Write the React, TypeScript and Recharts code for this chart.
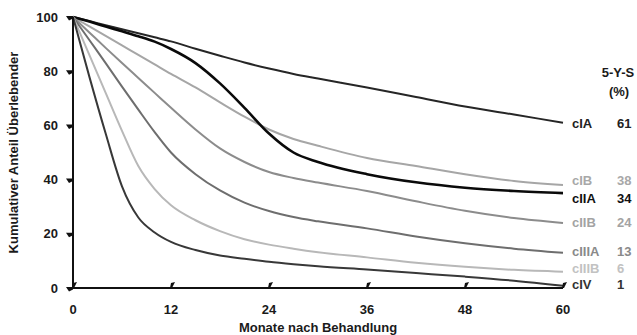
import React from "react";
import { LineChart, Line, XAxis, YAxis } from "recharts";

const months = [0, 2, 4, 6, 8, 10, 12, 15, 18, 21, 24, 27, 30, 36, 42, 48, 54, 60];

const cIA = [100, 98.5, 97, 95.5, 94, 92.5, 91, 88.3, 85.7, 83.2, 81, 79, 77.3, 74, 70.5, 67, 64, 61];
const cIB = [100, 96.5, 93, 89.5, 86, 82.5, 79, 74, 68.5, 63.2, 58.5, 55, 52.5, 48, 45, 42, 39.5, 38];
const cIIA = [100, 98.3, 96.5, 94.7, 92.9, 90.9, 88.2, 83, 75.5, 66.5, 57, 50, 46.5, 42, 39, 37, 35.8, 35];
const cIIB = [100, 94.3, 88.6, 83, 77.5, 72, 66.5, 58.5, 51.5, 46.5, 42.8, 40.6, 38.9, 35.8, 32, 28.5, 25.8, 24];
const cIIIA = [100, 91.5, 83, 74.3, 65.8, 57.5, 50, 42, 36, 31.5, 28.4, 26.2, 24.6, 22, 19, 16.5, 14.5, 13];
const cIIIB = [100, 86, 72, 58, 45, 36.5, 30.5, 25, 21, 18, 16, 14.5, 13.2, 11.3, 9.3, 7.8, 6.7, 6];
const cIV = [100, 78, 57, 37.5, 26, 20.5, 17, 14, 12, 10.8, 9.7, 8.8, 8, 6.8, 5.5, 4.2, 2.7, 0.8];

const seriesNames = ["cIA", "cIB", "cIIA", "cIIB", "cIIIA", "cIIIB", "cIV"];
const seriesValues = [cIA, cIB, cIIA, cIIB, cIIIA, cIIIB, cIV];
const fiveYearSurvival = ["61", "38", "34", "24", "13", "6", "1"];

const xTicks = [0, 12, 24, 36, 48, 60];
const yTicks = [0, 20, 40, 60, 80, 100];

const xTitle = "Monate nach Behandlung";
const yTitle = "Kumulativer Anteil Überlebender";
const headerLine1 = "5-Y-S";
const headerLine2 = "(%)";

const styles: Record<string, { stroke: string; width: number; text: string; dy: number }> = {
  cIA: { stroke: "#262626", width: 2, text: "#222222", dy: 1 },
  cIB: { stroke: "#a6a6a6", width: 2, text: "#a8a8a8", dy: -5 },
  cIIA: { stroke: "#0a0a0a", width: 2.6, text: "#111111", dy: 5 },
  cIIB: { stroke: "#8c8c8c", width: 2, text: "#a3a3a3", dy: -1 },
  cIIIA: { stroke: "#6e6e6e", width: 2, text: "#8a8a8a", dy: -1 },
  cIIIB: { stroke: "#b8b8b8", width: 2, text: "#c2c2c2", dy: -3.5 },
  cIV: { stroke: "#383838", width: 2, text: "#333333", dy: -1.5 },
};

const data = months.map((m, i) => {
  const row: Record<string, number> = { month: m };
  seriesNames.forEach((n, k) => {
    row[n] = seriesValues[k][i];
  });
  return row;
});

const FONT = "'Liberation Sans', Arial, sans-serif";

const YTick = (props: any) => {
  const { x, y, payload } = props;
  const ax = x + 15;
  return (
    <g>
      <polygon points={`${ax - 7},${y - 1} ${ax},${y - 1} ${ax},${y + 1.5} ${ax - 4},${y + 3.5}`} fill="#111" />
      <text x={x} y={y + 4.6} textAnchor="end" fontFamily={FONT} fontWeight="bold" fontSize={13} fill="#1a1a1a">
        {payload.value}
      </text>
    </g>
  );
};

const XTick = (props: any) => {
  const { x, y, payload } = props;
  const ay = y - 8;
  return (
    <g>
      <polygon points={`${x - 1},${ay} ${x + 1},${ay} ${x + 4},${ay - 6} ${x},${ay - 5}`} fill="#111" />
      <text x={x} y={y + 17.5} textAnchor="middle" fontFamily={FONT} fontWeight="bold" fontSize={13} fill="#1a1a1a">
        {payload.value}
      </text>
    </g>
  );
};

const makeEndLabel = (name: string, k: number) => (props: any) => {
  const { x, y, index } = props;
  if (index !== months.length - 1) return null;
  const st = styles[name];
  return (
    <g>
      {k === 0 && (
        <g>
          <text x={x + 55} y={y - 46} textAnchor="middle" fontFamily={FONT} fontWeight="bold" fontSize={13} fill="#1a1a1a">
            {headerLine1}
          </text>
          <text x={x + 56} y={y - 27} textAnchor="middle" fontFamily={FONT} fontWeight="bold" fontSize={13} fill="#1a1a1a">
            {headerLine2}
          </text>
        </g>
      )}
      <text x={x + 9} y={y + st.dy + 4.6} fontFamily={FONT} fontWeight="bold" fontSize={13} fill={st.text}>
        {name}
      </text>
      <text x={x + 54} y={y + st.dy + 4.6} fontFamily={FONT} fontWeight="bold" fontSize={13} fill={st.text}>
        {fiveYearSurvival[k]}
      </text>
    </g>
  );
};

const YTitle = (props: any) => {
  const vb = props.viewBox || {};
  const cy = (vb.y ?? 17) + (vb.height ?? 271) / 2;
  const cx = 18;
  return (
    <text
      x={cx}
      y={cy}
      transform={`rotate(-90 ${cx} ${cy})`}
      textAnchor="middle"
      fontFamily={FONT}
      fontWeight="bold"
      fontSize={13}
      fill="#1a1a1a"
    >
      {yTitle}
    </text>
  );
};

const XTitle = (props: any) => {
  const vb = props.viewBox || {};
  const cx = (vb.x ?? 73) + (vb.width ?? 490) / 2;
  return (
    <text x={cx} y={331.5} textAnchor="middle" fontFamily={FONT} fontWeight="bold" fontSize={13} fill="#1a1a1a">
      {xTitle}
    </text>
  );
};

export default function App() {
  return (
    <div style={{ position: "absolute", left: 0, top: 0, width: 637, height: 335, background: "#fff" }}>
      <LineChart width={637} height={335} data={data} margin={{ top: 17, right: 74, bottom: 0, left: 0 }}>
        <XAxis
          dataKey="month"
          type="number"
          domain={[0, 60]}
          ticks={xTicks}
          height={47}
          axisLine={{ stroke: "#111", strokeWidth: 2 }}
          tickLine={false}
          tick={<XTick />}
          label={<XTitle />}
          interval={0}
        />
        <YAxis
          type="number"
          domain={[0, 100]}
          ticks={yTicks}
          width={73}
          axisLine={{ stroke: "#111", strokeWidth: 2 }}
          tickLine={false}
          tickMargin={9}
          tick={<YTick />}
          label={<YTitle />}
          interval={0}
        />
        {seriesNames.map((n, k) => (
          <Line
            key={n}
            dataKey={n}
            type="monotone"
            stroke={styles[n].stroke}
            strokeWidth={styles[n].width}
            dot={false}
            activeDot={false}
            isAnimationActive={false}
            label={makeEndLabel(n, k)}
          />
        ))}
      </LineChart>
    </div>
  );
}
